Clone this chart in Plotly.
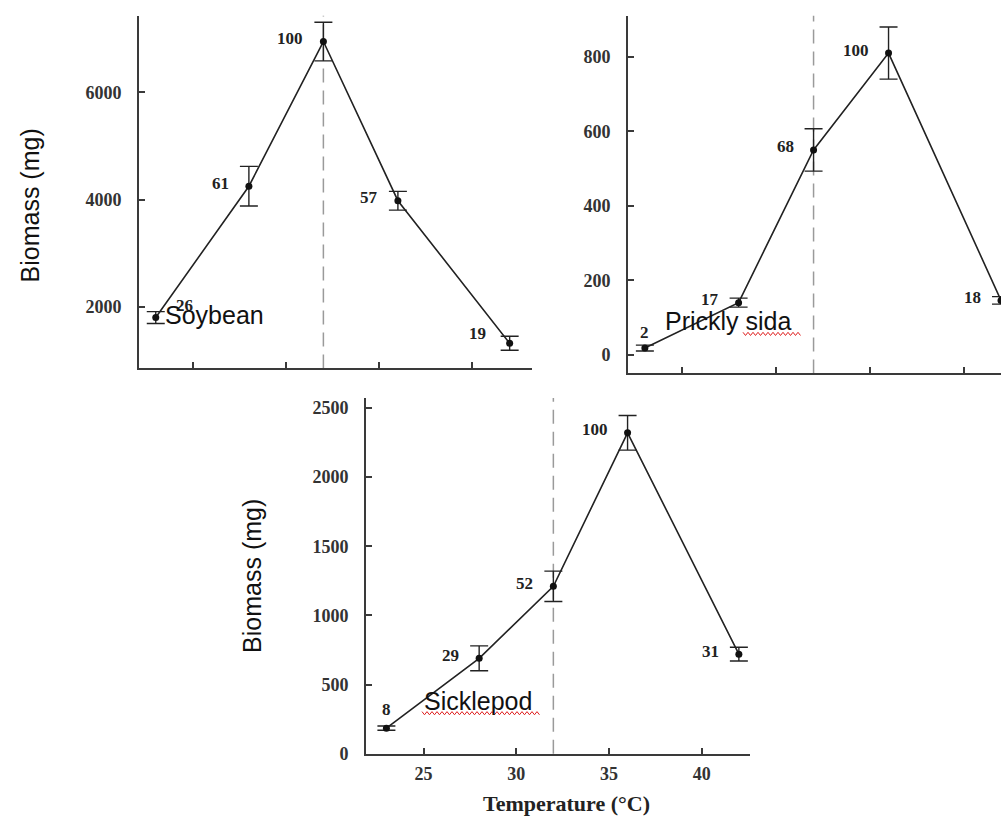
import plotly.graph_objects as go

W, H = 1001, 822

# ---- data ----
temps = [23, 28, 32, 36, 42]

soy_biomass = [1800, 4250, 6950, 3980, 1320]
soy_err = [110, 370, 360, 175, 130]
soy_pct = ["26", "61", "100", "57", "19"]

sida_biomass = [18, 140, 550, 810, 146]
sida_err = [8, 12, 57, 70, 10]
sida_pct = ["2", "17", "68", "100", "18"]

sickle_biomass = [185, 690, 1210, 2320, 720]
sickle_err = [15, 90, 110, 125, 50]
sickle_pct = ["8", "29", "52", "100", "31"]

opt_temp = 32
xticks = [25, 30, 35, 40]
soy_yticks = [2000, 4000, 6000]
sida_yticks = [0, 200, 400, 600, 800]
sickle_yticks = [0, 500, 1000, 1500, 2000, 2500]

# ---- helpers ----
def px(x):
    return x / W

def py(y):
    return 1 - y / H

LINE = "#222222"
AX = "#3a3a3a"
TICKFONT = dict(family="Liberation Serif", size=18, color="#333333", weight="bold")
LABFONT = dict(family="Liberation Serif", size=17, color="#222222", weight="bold")

fig = go.Figure()

panels = [
    ("x", "y", soy_biomass, soy_err),
    ("x2", "y2", sida_biomass, sida_err),
    ("x3", "y3", sickle_biomass, sickle_err),
]
for xa, ya, ys, es in panels:
    fig.add_trace(go.Scatter(
        x=temps, y=ys, xaxis=xa, yaxis=ya, mode="lines+markers",
        line=dict(color=LINE, width=1.6),
        marker=dict(color="#111111", size=7),
        error_y=dict(type="data", array=es, visible=True, color=LINE,
                     thickness=1.4, width=9),
        cliponaxis=False, showlegend=False, hoverinfo="skip",
    ))

def xaxis(domain, rng, showlabels):
    return dict(domain=domain, range=rng, showgrid=False, zeroline=False,
                showline=True, linecolor=AX, linewidth=2, ticks="inside",
                ticklen=6, tickwidth=1.5, tickcolor=AX, tickvals=xticks,
                showticklabels=showlabels, tickfont=TICKFONT,
                ticklabelstandoff=3)

def yaxis(domain, rng, tv):
    return dict(domain=domain, range=rng, showgrid=False, zeroline=False,
                showline=True, linecolor=AX, linewidth=2, ticks="inside",
                ticklen=6, tickwidth=1.5, tickcolor=AX, tickvals=tv,
                tickfont=TICKFONT, ticklabelstandoff=12)

fig.update_layout(
    width=W, height=H, margin=dict(l=0, r=0, t=0, b=0),
    paper_bgcolor="white", plot_bgcolor="white",
    xaxis=dict(xaxis([px(139), px(532)], [22.1, 43.2], False), anchor="y"),
    yaxis=dict(yaxis([py(373), py(16)], [850, 7430], soy_yticks), anchor="x"),
    xaxis2=dict(xaxis([px(628), 1.0], [22.1, 42.0], False), anchor="y2"),
    yaxis2=dict(yaxis([py(378), py(16)], [-50, 910], sida_yticks), anchor="x2"),
    xaxis3=dict(xaxis([px(366), px(750)], [21.9, 42.6], True), anchor="y3"),
    yaxis3=dict(yaxis([py(763), py(403)], [0, 2571], sickle_yticks), anchor="x3"),
)

shapes = []
for xr, yr in [("x", "y domain"), ("x2", "y2 domain"), ("x3", "y3 domain")]:
    shapes.append(dict(type="line", xref=xr, yref=yr, x0=opt_temp, x1=opt_temp,
                       y0=0, y1=1, line=dict(color="#9a9a9a", width=1.5, dash="14px,8px"),
                       layer="below"))

def squiggle(x0, x1, y, amp=1.6, step=2.5):
    pts = []
    x = x0
    up = True
    while x <= x1:
        pts.append((x, y - amp if up else y + amp))
        up = not up
        x += step
    path = "M " + " L ".join(f"{px(a):.5f},{py(b):.5f}" for a, b in pts)
    return dict(type="path", xref="paper", yref="paper", path=path,
                line=dict(color="#e02020", width=1))

shapes.append(squiggle(743, 802, 338))
shapes.append(squiggle(422, 540, 722))
fig.update_layout(shapes=shapes)

ann = []
def pct_labels(xr, yr, ys, labels, special):
    for t, v, lab in zip(temps, ys, labels):
        if lab in special:
            xs, yshift, anchor = special[lab]
        else:
            xs, yshift, anchor = -18, 3, "right"
        ann.append(dict(x=t, y=v, xref=xr, yref=yr, text=lab, showarrow=False,
                        xanchor=anchor, yanchor="middle", xshift=xs, yshift=yshift,
                        font=LABFONT))

pct_labels("x", "y", soy_biomass, soy_pct, {"26": (18, 12, "left"), "19": (-22, 10, "right")})
pct_labels("x2", "y2", sida_biomass, sida_pct, {"2": (0, 16, "center")})
pct_labels("x3", "y3", sickle_biomass, sickle_pct, {"8": (0, 19, "center")})

NAMEFONT = dict(family="Liberation Sans", size=25, color="#111111")
ann.append(dict(x=px(163), y=py(319), xref="paper", yref="paper", text="Soybean",
                showarrow=False, xanchor="left", yanchor="middle", font=NAMEFONT))
ann.append(dict(x=px(663), y=py(325), xref="paper", yref="paper", text="Prickly sida",
                showarrow=False, xanchor="left", yanchor="middle", font=NAMEFONT))
ann.append(dict(x=px(422), y=py(710), xref="paper", yref="paper", text="Sicklepod",
                showarrow=False, xanchor="left", yanchor="middle", font=NAMEFONT))

TITLEFONT = dict(family="Liberation Sans", size=25, color="#111111")
ann.append(dict(x=px(30), y=py(208), xref="paper", yref="paper", text="Biomass (mg)",
                showarrow=False, textangle=-90, xanchor="center", yanchor="middle",
                font=TITLEFONT))
ann.append(dict(x=px(252), y=py(583), xref="paper", yref="paper", text="Biomass (mg)",
                showarrow=False, textangle=-90, xanchor="center", yanchor="middle",
                font=TITLEFONT))
ann.append(dict(x=px(566), y=py(813), xref="paper", yref="paper", text="Temperature (°C)",
                showarrow=False, xanchor="center", yanchor="middle",
                font=dict(family="Liberation Serif", size=22, color="#222222", weight="bold")))

fig.update_layout(annotations=ann)

fig.write_html("out.html")
